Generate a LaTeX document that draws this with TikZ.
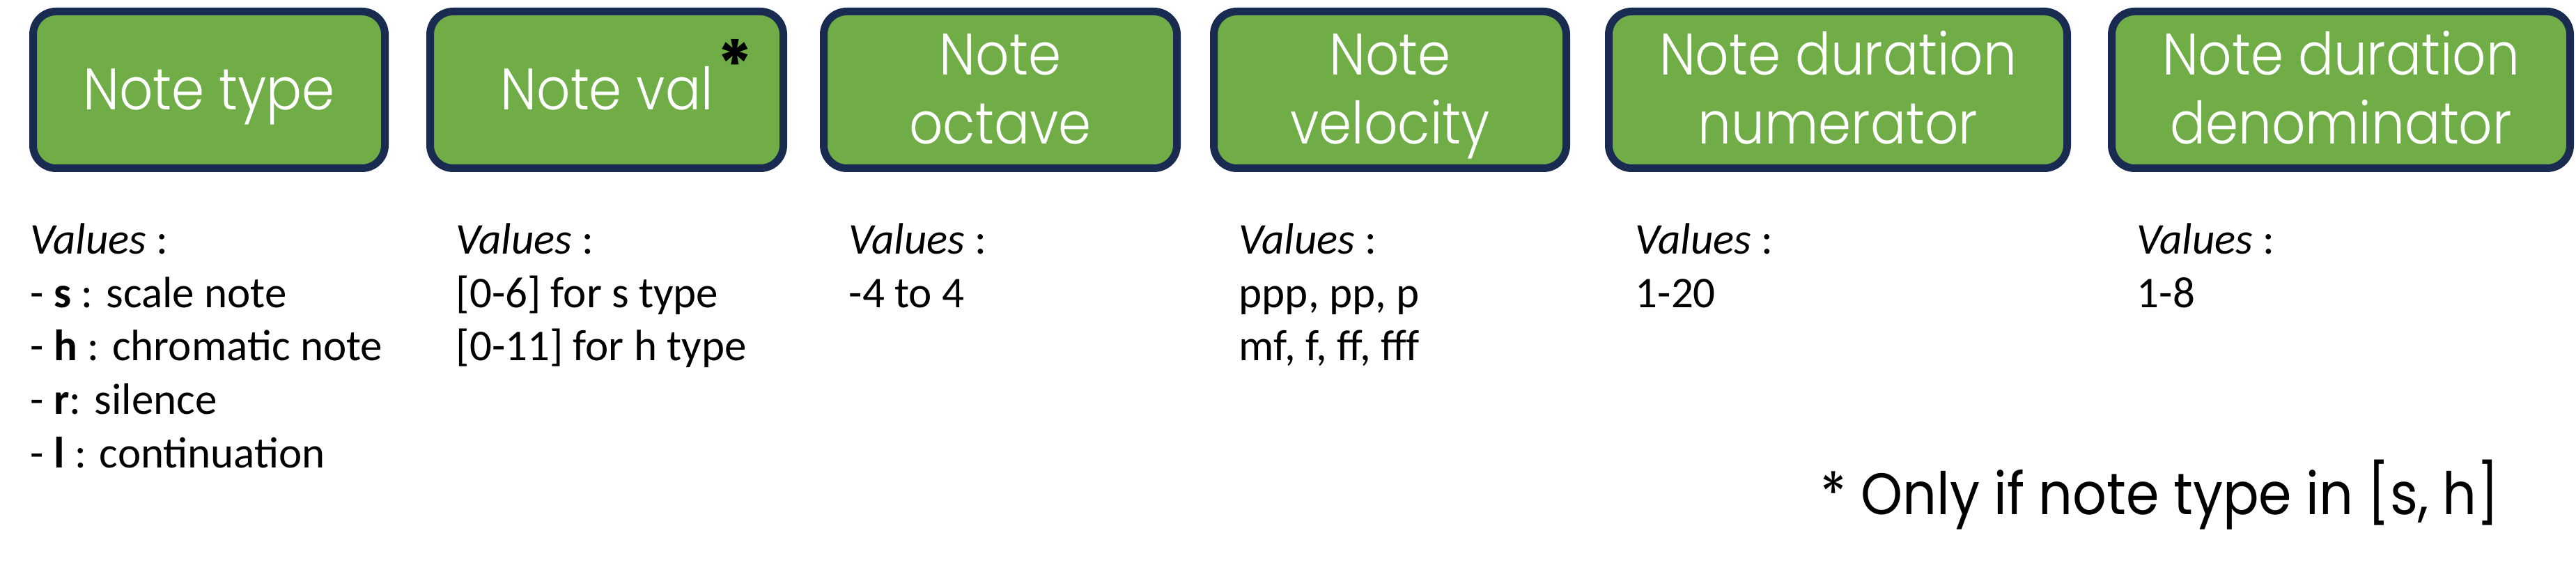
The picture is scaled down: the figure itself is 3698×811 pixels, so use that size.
\documentclass[tikz,border=0pt]{standalone}
\usepackage{fontspec}
\setmainfont{Carlito}
\newfontfamily\boxfont[FakeStretch=0.9]{Poppins Light}
\newfontfamily\notefont[FakeStretch=0.91]{Poppins}
\newfontfamily\astfont{Poppins}
\definecolor{boxgreen}{HTML}{70AD47}
\definecolor{boxnavy}{HTML}{192B50}
\begin{document}
\begin{tikzpicture}[x=0.25pt,y=-0.25pt,
  box/.style={draw=boxnavy, fill=boxgreen, line width=2.75pt, rounded corners=8.25pt,
    minimum height=56.25pt, inner sep=0pt},
  btext/.style={text=white, font=\boxfont\fontsize{21pt}{24.75pt}\selectfont, inner sep=0pt, anchor=base},
  vtext/.style={font=\fontsize{15.75pt}{19.25pt}\selectfont, inner sep=0pt, anchor=base west},
  note/.style={font=\notefont\fontsize{21pt}{24.75pt}\selectfont, inner sep=0pt, anchor=base west},
]
\useasboundingbox (0,0) rectangle (3698,811);

% boxes
\node[box, minimum width=126.25pt] (b1) at (300,129) {};
\node[box, minimum width=126.75pt] (b2) at (871,129) {};
\node[box, minimum width=126.75pt] (b3) at (1436,129) {};
\node[box, minimum width=126.5pt] (b4) at (1995.5,129) {};
\node[box, minimum width=164.5pt] (b5) at (2638.5,129) {};
\node[box, minimum width=164.5pt] (b6) at (3360.5,129) {};

% box texts
\node[btext] (t1) at (300,158) {Note type};
\node[btext] (t2) at (871,158) {Note val};
\node[inner sep=0pt, anchor=north, font=\astfont\fontsize{24pt}{28pt}\selectfont\bfseries] (ast) at (1055,56) {*};
\node[btext] (t3a) at (1436,108) {Note};
\node[btext] (t3b) at (1436,207) {octave};
\node[btext] (t4a) at (1995.5,108) {Note};
\node[btext] (t4b) at (1995.5,207) {velocity};
\node[btext] (t5a) at (2638.5,108) {Note duration};
\node[btext] (t5b) at (2638.5,207) {numerator};
\node[btext] (t6a) at (3360.5,108) {Note duration};
\node[btext] (t6b) at (3360.5,207) {denominator};

% value lists
\node[vtext] (v1a) at (43,365) {\textit{Values} :};
\node[vtext] (v1b) at (43,442) {- \textbf{s} : scale note};
\node[vtext] (v1c) at (43,518) {- \textbf{h} : chromatic note};
\node[vtext] (v1d) at (43,595) {- \textbf{r}: silence};
\node[vtext] (v1e) at (43,672) {- \textbf{l} : continuation};

\node[vtext] (v2a) at (654,365) {\textit{Values} :};
\node[vtext] (v2b) at (654,442) {[0-6] for s type};
\node[vtext] (v2c) at (654,518) {[0-11] for h type};

\node[vtext] (v3a) at (1218,365) {\textit{Values} :};
\node[vtext] (v3b) at (1218,442) {-4 to 4};

\node[vtext] (v4a) at (1778,365) {\textit{Values} :};
\node[vtext] (v4b) at (1778,442) {ppp, pp, p};
\node[vtext] (v4c) at (1778,518) {mf, f, ff, fff};

\node[vtext] (v5a) at (2347,365) {\textit{Values} :};
\node[vtext] (v5b) at (2347,442) {1-20};

\node[vtext] (v6a) at (3067,365) {\textit{Values} :};
\node[vtext] (v6b) at (3067,442) {1-8};

% footnote
\node[note] (fn) at (2613,739) {* Only if note type in [s, h]};
\end{tikzpicture}
\end{document}
